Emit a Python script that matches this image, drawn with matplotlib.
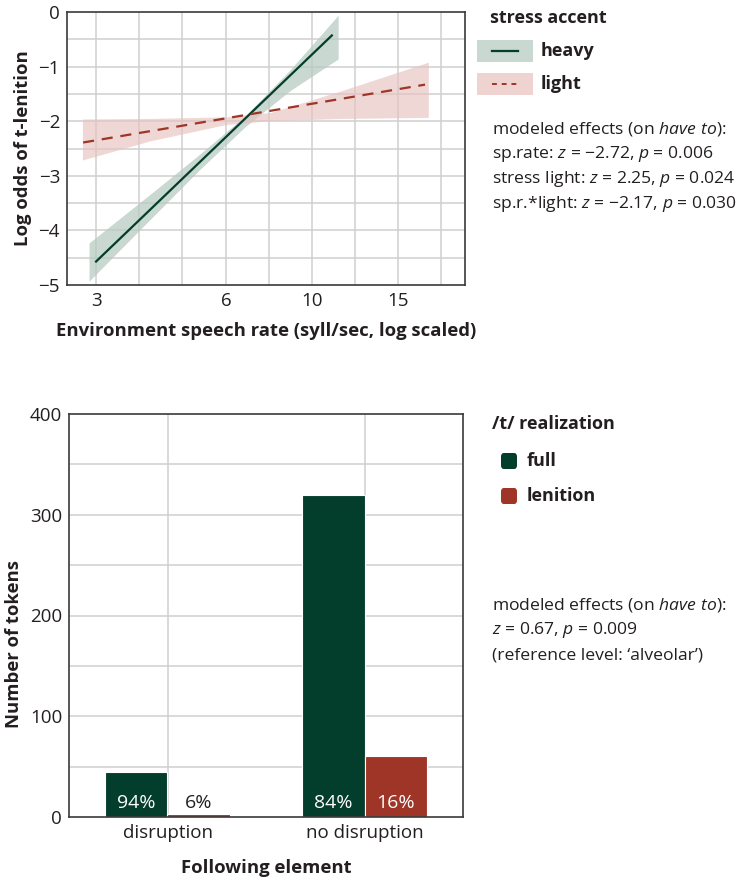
import matplotlib.pyplot as plt
from matplotlib.patches import Rectangle, FancyBboxPatch
from matplotlib.lines import Line2D

plt.rcParams['font.family'] = ['Open Sans', 'DejaVu Sans']
plt.rcParams['mathtext.fontset'] = 'custom'
plt.rcParams['mathtext.it'] = 'Open Sans:italic'
plt.rcParams['mathtext.rm'] = 'Open Sans'

# --- top panel data (speech rate vs log odds) ---
heavy_x = [3.0, 10.53]
heavy_y = [-4.57, -0.43]
heavy_band_x = [2.89, 4.00, 5.22, 6.64, 8.43, 10.89]
heavy_lo = [-4.93, -3.80, -2.88, -2.10, -1.44, -0.86]
heavy_hi = [-4.23, -3.34, -2.60, -1.90, -1.06, -0.06]

light_x = [2.80, 17.3]
light_y = [-2.39, -1.33]
light_band_x = [2.79, 4.00, 6.00, 7.60, 11.0, 17.6]
light_lo = [-2.71, -2.36, -2.06, -1.99, -1.95, -1.93]
light_hi = [-1.96, -1.95, -1.92, -1.84, -1.45, -0.92]

rate_ticks = [3, 6, 9.47, 15]
rate_labels = ['3', '6', '10', '15']
rate_grid = [3.0, 3.775, 4.75, 5.98, 7.52, 9.47, 11.91, 14.99, 18.86]

# --- bottom panel data ---
following = ['disruption', 'no disruption']
full_n = [45, 320]
lenition_n = [3, 61]
full_pct = ['94%', '84%']
lenition_pct = ['6%', '16%']

green = '#033d2c'
red = '#9e3527'
grid_c = '#d0d0d0'
frame_c = '#3a3a3a'
text_c = '#231f20'

fig = plt.figure(figsize=(7.52, 8.81), dpi=100)
W, H = 752, 881

def px_axes(l, t, r, b):
    return fig.add_axes([l / W, 1 - b / H, (r - l) / W, (b - t) / H])

tick_fs = 13.5
title_fs = 13.3

# ---------------- top ----------------
ax1 = px_axes(67, 12, 465, 285)
ax1.set_xscale('log')
ax1.set_xlim(2.57, 21.4)
ax1.set_ylim(-5, 0)
for g in rate_grid:
    ax1.axvline(g, color=grid_c, lw=1.1, zorder=0)
for v in [-4.5, -4, -3.5, -3, -2.5, -2, -1.5, -1, -0.5]:
    ax1.axhline(v, color=grid_c, lw=1.1, zorder=0)

ax1.fill_between(heavy_band_x, heavy_lo, heavy_hi, color='#b7cbc2', alpha=0.75, lw=0, zorder=1)
ax1.fill_between(light_band_x, light_lo, light_hi, color='#e6c2be', alpha=0.65, lw=0, zorder=1)
ax1.plot(heavy_x, heavy_y, color=green, lw=1.6, zorder=3)
ax1.plot(light_x, light_y, color=red, lw=1.6, ls=(0, (5, 3.5)), zorder=3)

ax1.set_xticks(rate_ticks)
ax1.set_xticklabels(rate_labels)
ax1.xaxis.set_minor_locator(plt.NullLocator())
ax1.set_yticks([0, -1, -2, -3, -4, -5])
ax1.set_yticklabels(['0', '\u22121', '\u22122', '\u22123', '\u22124', '\u22125'])
ax1.tick_params(length=0, labelsize=tick_fs, colors=text_c, pad=5)
for s in ax1.spines.values():
    s.set_color(frame_c)
    s.set_linewidth(1.2)
ax1.set_xlabel('Environment speech rate (syll/sec, log scaled)', fontsize=title_fs,
               fontweight='bold', color=text_c, labelpad=9)
ax1.set_ylabel('Log odds of t-lenition', fontsize=title_fs, fontweight='bold',
               color=text_c, labelpad=5)

# ---------------- bottom ----------------
ax2 = px_axes(69, 414, 463, 817)
pos = [1, 2]
bw = 0.316
ax2.set_xlim(0.5, 2.5)
ax2.set_ylim(0, 400)
for p in pos:
    ax2.axvline(p, color=grid_c, lw=1.1, zorder=0)
for v in [50, 100, 150, 200, 250, 300, 350]:
    ax2.axhline(v, color=grid_c, lw=1.1, zorder=0)
ax2.bar([p - bw / 2 for p in pos], full_n, width=bw, color=green,
        edgecolor='white', lw=0.8, zorder=2)
ax2.bar([p + bw / 2 for p in pos], lenition_n, width=bw, color=red,
        edgecolor='white', lw=0.8, zorder=2)
for i, p in enumerate(pos):
    ax2.text(p - bw / 2, 14, full_pct[i], ha='center', va='center',
             color='white', fontsize=14)
    lc = 'white' if lenition_n[i] > 20 else text_c
    ax2.text(p + bw / 2, 14, lenition_pct[i], ha='center', va='center',
             color=lc, fontsize=14)
ax2.set_xticks(pos)
ax2.set_xticklabels(following)
ax2.set_yticks([0, 100, 200, 300, 400])
ax2.tick_params(length=0, labelsize=tick_fs, colors=text_c, pad=5)
for s in ax2.spines.values():
    s.set_color(frame_c)
    s.set_linewidth(1.2)
ax2.set_xlabel('Following element', fontsize=title_fs, fontweight='bold',
               color=text_c, labelpad=12)
ax2.set_ylabel('Number of tokens', fontsize=title_fs, fontweight='bold', color=text_c)
ax2.yaxis.set_label_coords(-0.118, 0.43)

# ---------------- legends & notes (figure pixel coords) ----------------
def fx(x):
    return x / W

def fy(y):
    return 1 - y / H

fs = 13
note_fs = 12.6
fig.text(fx(490), fy(18), 'stress accent', fontsize=fs, fontweight='bold',
         color=text_c, va='center')
fig.patches.append(Rectangle((fx(477), fy(62)), 56 / W, 22 / H, transform=fig.transFigure,
                             color='#c9d8d1', lw=0))
fig.lines.append(Line2D([fx(492), fx(518)], [fy(51), fy(51)], transform=fig.transFigure,
                        color=green, lw=1.6))
fig.text(fx(541), fy(51), 'heavy', fontsize=fs, fontweight='bold', color=text_c, va='center')
fig.patches.append(Rectangle((fx(477), fy(95)), 56 / W, 22 / H, transform=fig.transFigure,
                             color='#efd3d1', lw=0))
fig.lines.append(Line2D([fx(492), fx(518)], [fy(84), fy(84)], transform=fig.transFigure,
                        color=red, lw=1.4, ls=(0, (2.5, 2.5))))
fig.text(fx(541), fy(84), 'light', fontsize=fs, fontweight='bold', color=text_c, va='center')

notes_top = ['modeled effects (on $\\it{have\\ to}$):',
             'sp.rate: $\\it{z}$ = \u22122.72, $\\it{p}$ = 0.006',
             'stress light: $\\it{z}$ = 2.25, $\\it{p}$ = 0.024',
             'sp.r.*light: $\\it{z}$ = \u22122.17, $\\it{p}$ = 0.030']
for i, line in enumerate(notes_top):
    fig.text(fx(492), fy(129 + 25 * i), line, fontsize=note_fs, color=text_c, va='center')

fig.text(fx(492), fy(424), '/t/ realization', fontsize=fs, fontweight='bold',
         color=text_c, va='center')
for yk, col, lab in [(461, green, 'full'), (496, red, 'lenition')]:
    fig.patches.append(FancyBboxPatch((fx(501), fy(yk + 8)), 16 / W, 16 / H,
                                      boxstyle='round,pad=0,rounding_size=0.004',
                                      transform=fig.transFigure, color=col, lw=0))
    fig.text(fx(527), fy(yk), lab, fontsize=fs, fontweight='bold', color=text_c, va='center')

notes_bot = ['modeled effects (on $\\it{have\\ to}$):',
             '$\\it{z}$ = 0.67, $\\it{p}$ = 0.009',
             '(reference level: \u2018alveolar\u2019)']
for i, line in enumerate(notes_bot):
    fig.text(fx(492), fy(605 + 25 * i), line, fontsize=note_fs, color=text_c, va='center')

fig.savefig('out.png', dpi=100)
